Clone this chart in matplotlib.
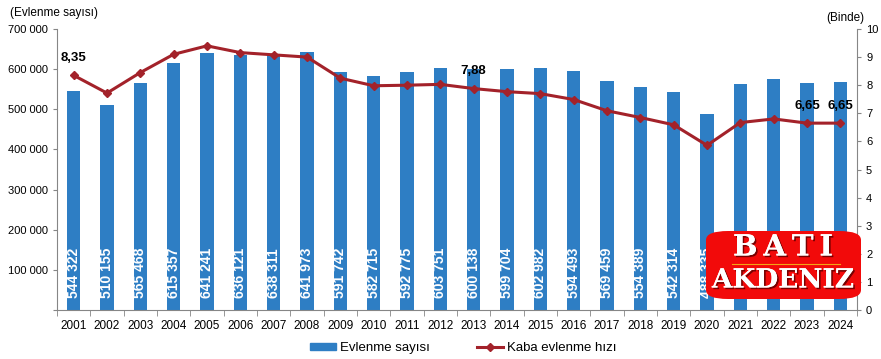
import matplotlib.pyplot as plt
import matplotlib.patheffects as pe
from matplotlib.lines import Line2D
from matplotlib.patches import FancyBboxPatch, Patch

plt.rcParams['font.family'] = ['Liberation Sans', 'DejaVu Sans']

# Data
years = ['2001', '2002', '2003', '2004', '2005', '2006', '2007', '2008',
         '2009', '2010', '2011', '2012', '2013', '2014', '2015', '2016',
         '2017', '2018', '2019', '2020', '2021', '2022', '2023', '2024']
marriages = [544322, 510155, 565468, 615357, 641241, 636121, 638311, 641973,
             591742, 582715, 592775, 603751, 600138, 599704, 602982, 594493,
             569459, 554389, 542314, 488335, 563484, 574358, 565435, 568383]
rates = [8.35, 7.72, 8.45, 9.10, 9.40, 9.16, 9.08, 9.00,
         8.25, 7.98, 8.00, 8.03, 7.88, 7.77, 7.70, 7.49,
         7.09, 6.85, 6.59, 5.86, 6.67, 6.80, 6.65, 6.65]
labelled = {0: '8,35', 12: '7,88', 22: '6,65', 23: '6,65'}

BAR_COLOR = '#2E7EC4'
LINE_COLOR = '#A3222A'
AXIS_COLOR = '#868686'
W, H = 881, 359


def space_thousands(v):
    return f'{v:,}'.replace(',', ' ')


fig = plt.figure(figsize=(W / 100, H / 100), dpi=100)
ax = fig.add_axes([57 / W, 49 / H, 800 / W, 281 / H])
ax2 = ax.twinx()

x = list(range(len(years)))
ax.bar(x, marriages, width=0.4, color=BAR_COLOR, zorder=2)
for i, v in enumerate(marriages):
    ax.text(i, 29000, space_thousands(v), rotation=90, ha='center',
            va='bottom', color='white', fontsize=10, fontweight='bold',
            zorder=3)

ax.set_xlim(-0.5, len(years) - 0.5)
ax.set_ylim(0, 700000)
yt = list(range(0, 700001, 100000))
ax.set_yticks(yt)
ax.set_yticklabels([''] + [space_thousands(v) for v in yt[1:]])
ax.set_xticks(x)
ax.set_xticklabels(years)
ax.set_xticks([i - 0.5 for i in range(len(years) + 1)], minor=True)
ax.tick_params(axis='x', which='major', length=0, labelsize=8.5, pad=7)
ax.tick_params(axis='x', which='minor', length=4, color=AXIS_COLOR, direction='out')
ax.tick_params(axis='y', length=3, color=AXIS_COLOR, labelsize=8)

ax2.plot(x, rates, color=LINE_COLOR, lw=2.2, marker='D', ms=4.5, zorder=4)
ax2.set_ylim(0, 10)
ax2.set_yticks(range(0, 11))
ax2.tick_params(axis='y', length=3, color=AXIS_COLOR, labelsize=8)
for i, txt in labelled.items():
    ax2.annotate(txt, (i, rates[i]), xytext=(0, 8), textcoords='offset points',
                 ha='center', va='bottom', fontsize=9.5, fontweight='bold')

for a in (ax, ax2):
    a.spines['top'].set_visible(False)
    for s in ('left', 'right', 'bottom'):
        a.spines[s].set_color(AXIS_COLOR)
ax.spines['right'].set_visible(False)
ax2.spines['left'].set_visible(False)
ax2.spines['bottom'].set_visible(False)

fig.text(10 / W, 1 - 13 / H, '(Evlenme sayısı)', fontsize=8.5, va='center')
fig.text(845 / W, 1 - 18 / H, '(Binde)', fontsize=8.5, va='center', ha='center')

handles = [Patch(color=BAR_COLOR),
           Line2D([0], [0], color=LINE_COLOR, lw=2.2, marker='D', ms=4.5)]
fig.legend(handles, ['Evlenme sayısı', 'Kaba evlenme hızı'], loc='center',
           bbox_to_anchor=(463 / W, 1 - 348 / H), ncol=2, frameon=False,
           fontsize=9.5, handlelength=2.0, handleheight=0.5,
           columnspacing=3.6, handletextpad=0.25)

# watermark logo
logo = FancyBboxPatch((706 / W, 1 - 299 / H), 155 / W, 68 / H,
                      boxstyle='round,pad=0,rounding_size=0.025',
                      transform=fig.transFigure, facecolor='#F20A0A',
                      edgecolor='none', zorder=10)
fig.patches.append(logo)
fig.add_artist(Line2D([732 / W, 840 / W], [1 - 264 / H, 1 - 264 / H],
                      transform=fig.transFigure, color='#F2A516', lw=0.8,
                      zorder=11))
shadow = [pe.withSimplePatchShadow(offset=(1.2, -1.2), shadow_rgbFace='#6a0000',
                                   alpha=0.9), pe.Normal()]
fig.text(783 / W, 1 - 247 / H, 'B\u2009A\u2009T\u2009I', fontsize=21,
         fontweight='bold', family=['DejaVu Serif'], color='white',
         ha='center', va='center', zorder=12, path_effects=shadow)
fig.text(783 / W, 1 - 280 / H, 'AKDENIZ', fontsize=19, fontweight='bold',
         family=['DejaVu Serif'], color='white', ha='center', va='center',
         zorder=12, path_effects=shadow)

fig.savefig('out.png', dpi=100)
